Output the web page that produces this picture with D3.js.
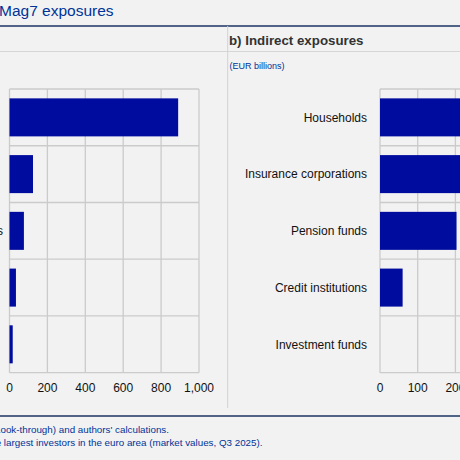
<!DOCTYPE html>
<html><head><meta charset="utf-8">
<script src="https://cdn.jsdelivr.net/npm/d3@7"></script>
<style>
html,body{margin:0;padding:0;background:#f2f2f2;}
svg{display:block;font-family:"Liberation Sans",Arial,sans-serif;}
</style></head>
<body>
<svg id="c" width="460" height="460"></svg>
<script>
const categories = ["Households","Insurance corporations","Pension funds","Credit institutions","Investment funds"];
const directValues = [890, 124, 76, 34, 17];
const indirectValues = [420, 310, 203, 60, 0];
const directTicks = [0, 200, 400, 600, 800, 1000];
const indirectTicks = [0, 100, 200, 300, 400, 500];
const panelTitle = "b) Indirect exposures";
const unitLabel = "(EUR billions)";
const chartTitle = "Mag7 exposures";
const notes = [
  "Sources: ECB (securities holdings statistics, Look-through) and authors' calculations.",
  "Notes: Mag7 exposures of the largest investors in the euro area (market values, Q3 2025)."
];

const svg = d3.select("#c");
const navy = "#1b3464", blue = "#003299", barColor = "#000c9e", grid = "#cbcbcb";

svg.append("rect").attr("width",460).attr("height",460).attr("fill","#f2f2f2");

// Title
svg.append("text").attr("x",-1).attr("y",16).attr("fill",blue)
  .attr("font-size",15.5).text(chartTitle);
svg.append("line").attr("x1",0).attr("x2",460).attr("y1",26).attr("y2",26)
  .attr("stroke",navy).attr("stroke-width",1.3);
svg.append("line").attr("x1",0).attr("x2",460).attr("y1",51.5).attr("y2",51.5)
  .attr("stroke","#d6d6d6").attr("stroke-width",1);
svg.append("line").attr("x1",227.7).attr("x2",227.7).attr("y1",26).attr("y2",408)
  .attr("stroke","#d2d2d2").attr("stroke-width",1);

const y = d3.scaleBand().domain(categories).range([89, 372.7]).paddingInner(0.33).paddingOuter(0.165);

const panels = [
  {values: directValues, ticks: directTicks, x: d3.scaleLinear().domain([0,1000]).range([9.5,199]), labels: false},
  {values: indirectValues, ticks: indirectTicks, x: d3.scaleLinear().domain([0,500]).range([380,568.5]), labels: true}
];

// panel b header
svg.append("text").attr("x", 229).attr("y",44.5).attr("fill","#333")
  .attr("font-size",13.3).attr("font-weight","bold").text(panelTitle);
svg.append("text").attr("x", 229.5).attr("y",68.5).attr("fill",blue)
  .attr("font-size",9).text(unitLabel);

panels.forEach(p => {
  const g = svg.append("g");
  const x = p.x;
  const x0 = x.range()[0];
  const visibleTicks = p.ticks.filter(d => x(d) < 470);
  // horizontal grid lines at band boundaries
  const bounds = categories.map(c => y(c) - y.step()*y.paddingInner()/2)
    .concat([y.range()[1]]);
  g.selectAll(".hg").data(bounds).join("line")
    .attr("x1", x0).attr("x2", x.range()[1])
    .attr("y1", d=>d).attr("y2", d=>d)
    .attr("stroke", grid).attr("stroke-width",1.3);
  // vertical grid lines
  g.selectAll(".vg").data(p.ticks).join("line")
    .attr("x1", d=>x(d)).attr("x2", d=>x(d))
    .attr("y1", y.range()[0]).attr("y2", y.range()[1])
    .attr("stroke", grid).attr("stroke-width",1.3);
  // bars
  g.selectAll(".bar").data(categories).join("rect")
    .attr("x", x0)
    .attr("y", c => y(c))
    .attr("height", y.bandwidth())
    .attr("width", (c,i) => x(p.values[i]) - x0)
    .attr("fill", barColor);
  // category labels
  if (p.labels) {
    g.selectAll(".lab").data(categories).join("text")
      .attr("x", x0 - 13).attr("y", c => y(c) + y.bandwidth()/2)
      .attr("dy","0.35em").attr("text-anchor","end")
      .attr("font-size",12).attr("fill","#111").text(c=>c);
  } else {
    // only the trailing letter of the third label is visible at the left edge
    g.append("text").attr("x", 3).attr("y", y(categories[2]) + y.bandwidth()/2)
      .attr("dy","0.35em").attr("text-anchor","end")
      .attr("font-size",12).attr("fill","#111").text(categories[2]);
  }
  // x axis tick labels
  const fmt = d3.format(",");
  g.selectAll(".tl").data(visibleTicks).join("text")
    .attr("x", d=>x(d)).attr("y",392)
    .attr("text-anchor","middle").attr("font-size",12).attr("fill","#111")
    .text(d=>fmt(d));
});

// footer
svg.append("line").attr("x1",0).attr("x2",460).attr("y1",416).attr("y2",416)
  .attr("stroke",navy).attr("stroke-width",1.3);
svg.append("text").attr("x",169).attr("y",433).attr("text-anchor","end")
  .attr("fill",blue).attr("font-size",9.8).text(notes[0]);
svg.append("text").attr("x",262.5).attr("y",445.5).attr("text-anchor","end")
  .attr("fill",blue).attr("font-size",9.8).text(notes[1]);
</script>
</body></html>
